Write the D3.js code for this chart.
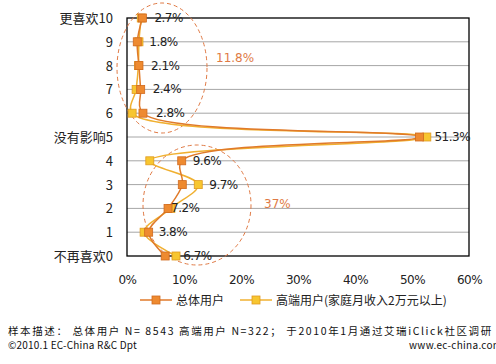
<!DOCTYPE html>
<html>
<head>
<meta charset="utf-8">
<script src="https://cdn.jsdelivr.net/npm/d3@7"></script>
<style>
  body { margin: 0; background: #fff; }
  text { font-family: "Noto Sans CJK SC", "Noto Sans", sans-serif; }
</style>
</head>
<body>
<div id="chart"></div>
<script>
const width = 496;
const height = 364;

// Data
const levels = [0, 1, 2, 3, 4, 5, 6, 7, 8, 9, 10];
const levelLabels = ["不再喜欢0", "1", "2", "3", "4", "没有影响5", "6", "7", "8", "9", "更喜欢10"];
const totalUsers = [6.7, 3.8, 7.2, 9.7, 9.6, 51.3, 2.8, 2.4, 2.1, 1.8, 2.7];
const highEndUsers = [8.6, 3.0, 7.7, 12.5, 4.0, 52.6, 0.9, 1.6, 2.0, 2.1, 2.5];
const labelDx = [18, 10, 3, 27, 11, 15, 13, 12, 12, 12, 12];
const xTicks = [0, 10, 20, 30, 40, 50, 60];
const seriesNames = ["总体用户", "高端用户(家庭月收入2万元以上)"];

const svg = d3.select("#chart")
    .append("svg")
    .attr("width", width)
    .attr("height", height);

const x = d3.scaleLinear().domain([0, 60]).range([127, 469]);
const y = d3.scaleLinear().domain([0, 10]).range([256, 18]);

// gridlines
svg.selectAll(".grid")
    .data(levels.slice(1, 10))
    .enter()
    .append("line")
    .attr("x1", x(0)).attr("x2", x(60))
    .attr("y1", d => y(d)).attr("y2", d => y(d))
    .attr("stroke", "#a6a6a6")
    .attr("stroke-width", 1);

// plot border
svg.append("rect")
    .attr("x", x(0)).attr("y", y(10))
    .attr("width", x(60) - x(0)).attr("height", y(0) - y(10))
    .attr("fill", "none")
    .attr("stroke", "#000")
    .attr("stroke-width", 1.3);

// y labels
svg.selectAll(".ylab")
    .data(levels)
    .enter()
    .append("text")
    .attr("x", 113)
    .attr("y", d => y(d) + 5)
    .attr("text-anchor", "end")
    .style("font-size", "13px")
    .attr("fill", "#222")
    .text((d, i) => levelLabels[i]);

// x tick labels
const xAxis = d3.axisBottom(x).tickValues(xTicks).tickFormat(d => d + "%").tickSize(0);
const xg = svg.append("g").attr("transform", `translate(0, ${y(0) + 16})`).call(xAxis);
xg.select(".domain").remove();
xg.selectAll("text").style("font-size", "12px").attr("fill", "#222")
    .style("font-family", "'DejaVu Sans', sans-serif").style("letter-spacing", "-0.5px");

// dashed ellipses
svg.append("ellipse")
    .attr("cx", 162).attr("cy", 68).attr("rx", 45).attr("ry", 65)
    .attr("fill", "none").attr("stroke", "#e07a45")
    .attr("stroke-width", 1).attr("stroke-dasharray", "4,3");
svg.append("ellipse")
    .attr("cx", 197).attr("cy", 205).attr("rx", 54).attr("ry", 60)
    .attr("fill", "none").attr("stroke", "#e07a45")
    .attr("stroke-width", 1).attr("stroke-dasharray", "4,3");

svg.append("text").attr("x", 216).attr("y", 62)
    .attr("fill", "#e07a45").style("font-size", "12px")
    .style("font-family", "'DejaVu Sans', sans-serif").text("11.8%");
svg.append("text").attr("x", 264).attr("y", 208)
    .attr("fill", "#e07a45").style("font-size", "12px")
    .style("font-family", "'DejaVu Sans', sans-serif").text("37%");

const line = d3.line()
    .x(d => x(d[1]))
    .y(d => y(d[0]))
    .curve(d3.curveCatmullRom);

const series = [
    { values: highEndUsers, stroke: "#f0b030", fill: "#f7c630", edge: "#e09a20" },
    { values: totalUsers, stroke: "#e07a2a", fill: "#ee8a30", edge: "#d06a20" }
];

series.forEach(s => {
    const pts = levels.map((l, i) => [l, s.values[i]]);
    svg.append("path")
        .datum(pts)
        .attr("d", line)
        .attr("fill", "none")
        .attr("stroke", s.stroke)
        .attr("stroke-width", 1.5);
});

series.forEach(s => {
    svg.selectAll(null)
        .data(levels)
        .enter()
        .append("rect")
        .attr("x", (d, i) => x(s.values[i]) - 4)
        .attr("y", d => y(d) - 4)
        .attr("width", 8).attr("height", 8)
        .attr("fill", s.fill)
        .attr("stroke", s.edge)
        .attr("stroke-width", 0.8);
});

// data labels (total users)
svg.selectAll(".dlab")
    .data(levels)
    .enter()
    .append("text")
    .attr("x", (d, i) => x(totalUsers[i]) + labelDx[i])
    .attr("y", d => y(d) + 4)
    .style("font-size", "12px")
    .style("font-family", "'DejaVu Sans', sans-serif")
    .style("letter-spacing", "-0.5px")
    .attr("fill", "#222")
    .text((d, i) => totalUsers[i] + "%");

// legend
const legend = [
    { x: 140, color: "#e07a2a", fill: "#ee8a30", edge: "#d06a20", name: seriesNames[0] },
    { x: 240, color: "#f0b030", fill: "#f7c630", edge: "#e09a20", name: seriesNames[1] }
];
legend.forEach(l => {
    svg.append("line").attr("x1", l.x).attr("x2", l.x + 32)
        .attr("y1", 300).attr("y2", 300)
        .attr("stroke", l.color).attr("stroke-width", 1.5);
    svg.append("rect").attr("x", l.x + 12).attr("y", 296).attr("width", 8).attr("height", 8)
        .attr("fill", l.fill).attr("stroke", l.edge).attr("stroke-width", 0.8);
    svg.append("text").attr("x", l.x + 36).attr("y", 305)
        .style("font-size", "12px").attr("fill", "#222").text(l.name);
});

// footer
svg.append("text").attr("x", 8).attr("y", 335)
    .style("font-size", "10.5px").attr("fill", "#111")
    .style("letter-spacing", "1.6px")
    .text("样本描述： 总体用户 N= 8543  高端用户 N=322；  于2010年1月通过艾瑞iClick社区调研");
svg.append("text").attr("x", 8).attr("y", 349)
    .style("font-size", "10px").attr("fill", "#111")
    .style("letter-spacing", "0.2px")
    .text("©2010.1 EC-China R&C Dpt");
svg.append("text").attr("x", 409).attr("y", 349)
    .style("font-size", "10px").attr("fill", "#111")
    .style("letter-spacing", "0.3px")
    .text("www.ec-china.com");
</script>
</body>
</html>
